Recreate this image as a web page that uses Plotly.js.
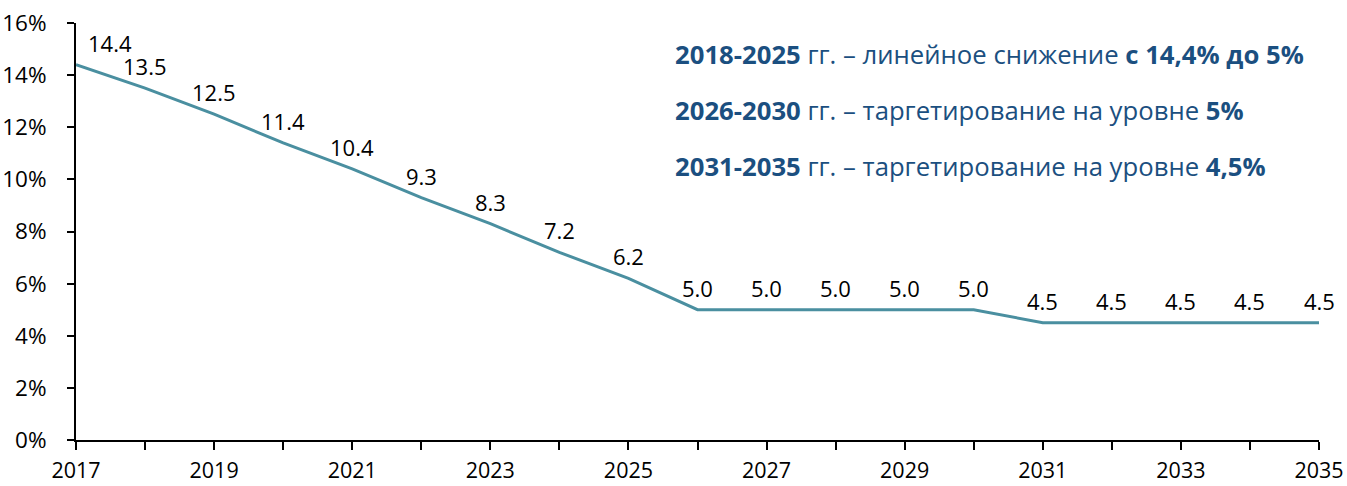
<!DOCTYPE html>
<html><head><meta charset="utf-8">
<script src="https://cdn.plot.ly/plotly-3.0.1.min.js"></script>
<style>html,body{margin:0;padding:0;background:#fff}#chart{width:1347px;height:486px}</style>
</head><body><div id="chart"></div>
<script>
const years = [2017,2018,2019,2020,2021,2022,2023,2024,2025,2026,2027,2028,2029,2030,2031,2032,2033,2034,2035];
const rate = [14.4,13.5,12.5,11.4,10.4,9.3,8.3,7.2,6.2,5.0,5.0,5.0,5.0,5.0,4.5,4.5,4.5,4.5,4.5];
const yTicks = [0,2,4,6,8,10,12,14,16];
const notes = [
  '<b>2018-2025</b> гг. – линейное снижение <b>с 14,4% до 5%</b>',
  '<b>2026-2030</b> гг. – таргетирование на уровне <b>5%</b>',
  '<b>2031-2035</b> гг. – таргетирование на уровне <b>4,5%</b>'
];
const FONT = 'Open Sans, sans-serif';
const lineColor = '#4a8fa0';

const annotations = years.map((yr, i) => ({
  x: yr, y: rate[i], xref: 'x', yref: 'y',
  text: rate[i].toFixed(1), showarrow: false,
  xanchor: 'center', yanchor: 'middle',
  yshift: 22, xshift: i === 0 ? 34 : 0,
  font: {family: FONT, size: 22, color: '#000'}
}));
notes.forEach((t, i) => annotations.push({
  x: 0.4805, y: 0.925 - i * 0.1345, xref: 'paper', yref: 'paper',
  text: t, showarrow: false, xanchor: 'left', yanchor: 'middle',
  font: {family: FONT, size: 25.7, color: '#1b4f80'}
}));

Plotly.newPlot('chart', [{
  x: years, y: rate, type: 'scatter', mode: 'lines',
  line: {color: lineColor, width: 3}, hoverinfo: 'skip'
}], {
  width: 1347, height: 486,
  margin: {l: 76, r: 28, t: 23, b: 46},
  paper_bgcolor: '#fff', plot_bgcolor: '#fff',
  showlegend: false,
  font: {family: FONT, size: 22, color: '#000'},
  xaxis: {
    range: [2017, 2035], tickmode: 'linear', tick0: 2017, dtick: 2,
    showgrid: false, zeroline: false,
    showline: true, linecolor: '#000', linewidth: 2,
    ticks: 'outside', ticklen: 8, tickwidth: 2, tickcolor: '#000',
    ticklabelstandoff: 2,
    minor: {dtick: 1, tick0: 2017, ticks: 'outside', ticklen: 8, tickwidth: 2, tickcolor: '#000'},
    tickfont: {family: FONT, size: 21.5, color: '#000'}
  },
  yaxis: {
    range: [0, 16], tickvals: yTicks, ticktext: yTicks.map(v => v + '%'),
    showgrid: false, zeroline: false,
    showline: true, linecolor: '#000', linewidth: 2,
    ticks: 'outside', ticklen: 7, tickwidth: 2, tickcolor: '#000',
    ticklabelstandoff: 16,
    tickfont: {family: FONT, size: 22.5, color: '#000'}
  },
  annotations: annotations
}, {displayModeBar: false, staticPlot: true});
</script></body></html>
